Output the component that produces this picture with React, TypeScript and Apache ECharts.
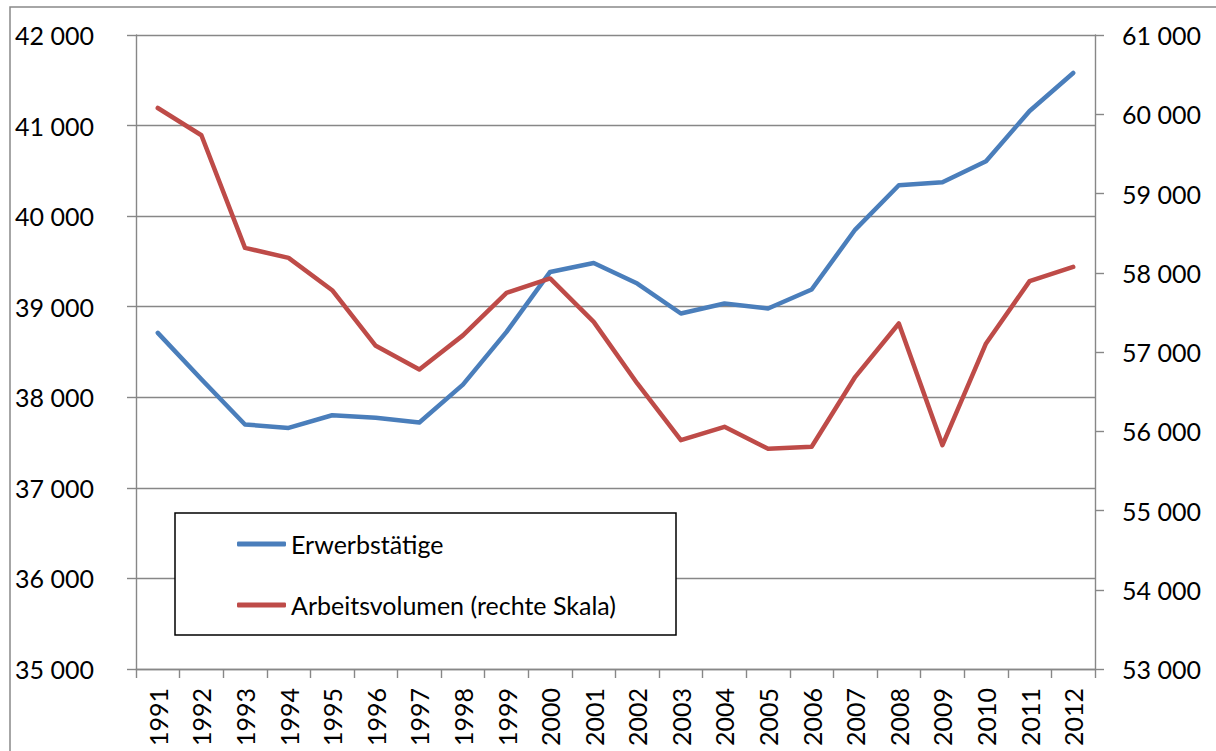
import React, { useEffect, useRef } from "react";
import * as echarts from "echarts";

const years = ["1991", "1992", "1993", "1994", "1995", "1996", "1997", "1998", "1999", "2000", "2001", "2002", "2003", "2004", "2005", "2006", "2007", "2008", "2009", "2010", "2011", "2012"];
const erwerbstaetige = [38711, 38200, 37700, 37662, 37802, 37773, 37722, 38140, 38722, 39384, 39483, 39256, 38925, 39035, 38980, 39190, 39852, 40341, 40374, 40606, 41161, 41581];
const arbeitsvolumen = [60079, 59735, 58314, 58188, 57780, 57078, 56780, 57210, 57746, 57928, 57380, 56603, 55888, 56056, 55779, 55804, 56687, 57360, 55825, 57108, 57894, 58074];
const seriesNames = ["Erwerbstätige", "Arbeitsvolumen (rechte Skala)"];

const fmt = (v: number) => String(v).replace(/\B(?=(\d{3})+(?!\d))/g, " ");

const GRAY = "#878787";
const FONT = "Lato";

export default function App() {
  const ref = useRef<HTMLDivElement>(null);
  useEffect(() => {
    if (!ref.current) return;
    const chart = echarts.init(ref.current, undefined, { renderer: "svg" });
    chart.setOption({
      animation: false,
      backgroundColor: "#ffffff",
      grid: { left: 136, right: 121, top: 35, bottom: 82, containLabel: false },
      xAxis: {
        type: "category",
        data: years,
        boundaryGap: true,
        axisLine: { show: true, lineStyle: { color: GRAY, width: 1.4 } },
        axisTick: { show: true, interval: 0, length: 9, lineStyle: { color: GRAY, width: 1.4 } },
        axisLabel: { interval: 0, rotate: 90, margin: 19, fontSize: 25, fontFamily: FONT, color: "#000" },
        splitLine: { show: false },
      },
      yAxis: [
        {
          type: "value",
          min: 35000,
          max: 42000,
          interval: 1000,
          axisLine: { show: true, lineStyle: { color: GRAY, width: 1.4 } },
          axisTick: { show: true, length: 9, lineStyle: { color: GRAY, width: 1.4 } },
          axisLabel: { margin: 42, fontSize: 25, fontFamily: FONT, color: "#000", formatter: fmt },
          splitLine: { show: true, lineStyle: { color: GRAY, width: 1.4 } },
        },
        {
          type: "value",
          min: 53000,
          max: 61000,
          interval: 1000,
          position: "right",
          axisLine: { show: true, lineStyle: { color: GRAY, width: 1.4 } },
          axisTick: { show: true, length: 9, lineStyle: { color: GRAY, width: 1.4 } },
          axisLabel: { margin: 27, fontSize: 25, fontFamily: FONT, color: "#000", formatter: fmt },
          splitLine: { show: false },
        },
      ],
      legend: {
        show: true,
        orient: "vertical",
        left: 237,
        top: 529,
        padding: 0,
        itemGap: 31,
        itemWidth: 49,
        itemHeight: 5,
        icon: "roundRect",
        z: 100,
        data: seriesNames,
        textStyle: { fontSize: 25, lineHeight: 30, fontFamily: FONT, color: "#000" },
      },
      graphic: {
        elements: [
          {
            type: "rect",
            z: -10,
            silent: true,
            shape: { x: 10, y: 7, width: 1400, height: 1000 },
            style: { fill: "none", stroke: "#898989", lineWidth: 1.5 },
          },
          {
            type: "rect",
            z: 50,
            silent: true,
            shape: { x: 175, y: 513, width: 501, height: 122 },
            style: { fill: "#ffffff", stroke: "#000000", lineWidth: 1.5 },
          },
        ],
      },
      series: [
        {
          name: seriesNames[0],
          type: "line",
          yAxisIndex: 0,
          data: erwerbstaetige,
          symbol: "none",
          color: "#4a7ebb",
          lineStyle: { width: 4.5, color: "#4a7ebb", cap: "round", join: "round" },
        },
        {
          name: seriesNames[1],
          type: "line",
          yAxisIndex: 1,
          data: arbeitsvolumen,
          symbol: "none",
          color: "#be4b48",
          lineStyle: { width: 4.5, color: "#be4b48", cap: "round", join: "round" },
        },
      ],
    });
    return () => chart.dispose();
  }, []);
  return <div ref={ref} style={{ position: "fixed", left: 0, top: 0, width: 1216, height: 751 }} />;
}
